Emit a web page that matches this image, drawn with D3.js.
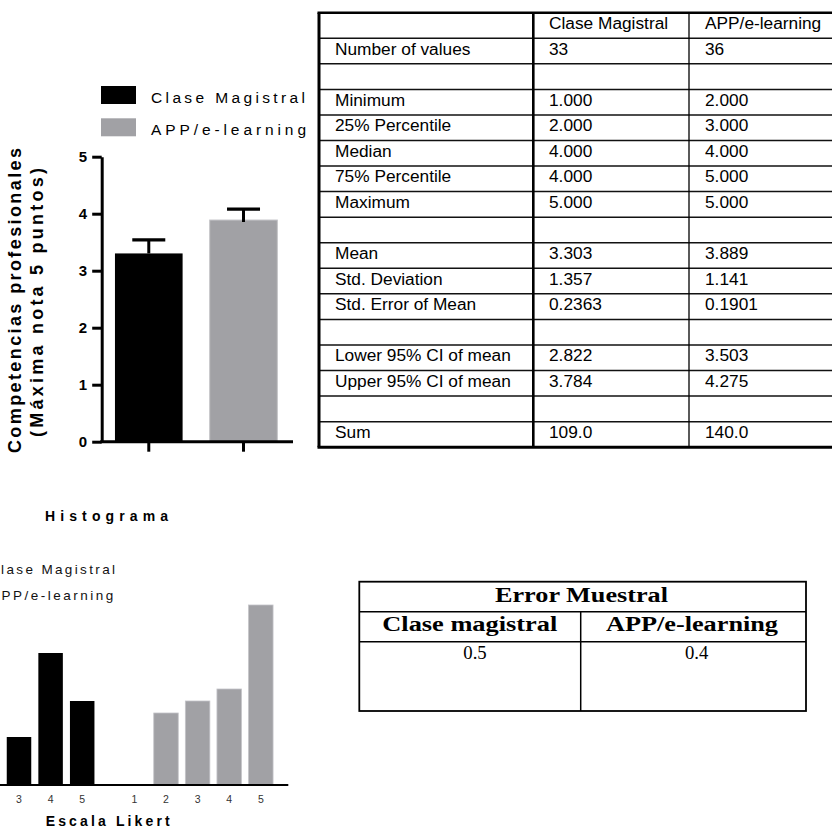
<!DOCTYPE html>
<html>
<head>
<meta charset="utf-8">
<script src="https://cdn.jsdelivr.net/npm/d3@7"></script>
<style>
  html, body { margin: 0; padding: 0; background: #fff; }
  svg { display: block; }
</style>
</head>
<body>
<script>
// ---------------- DATA ----------------
const groups = ["Clase Magistral", "APP/e-learning"];
const groupMeans = [3.303, 3.889];
const groupSEM = [0.2363, 0.1901];
const barTicks = [0, 1, 2, 3, 4, 5];

const likert = [1, 2, 3, 4, 5];
const claseCounts = [4, 7, 4, 11, 7];
const appCounts = [0, 6, 7, 8, 15];

const statHeader = ["", "Clase Magistral", "APP/e-learning"];
const statLabels = ["Number of values", "", "Minimum", "25% Percentile", "Median", "75% Percentile", "Maximum", "",
  "Mean", "Std. Deviation", "Std. Error of Mean", "", "Lower 95% CI of mean", "Upper 95% CI of mean", "", "Sum"];
const claseStats = ["33", "", "1.000", "2.000", "4.000", "4.000", "5.000", "",
  "3.303", "1.357", "0.2363", "", "2.822", "3.784", "", "109.0"];
const appStats = ["36", "", "2.000", "3.000", "4.000", "5.000", "5.000", "",
  "3.889", "1.141", "0.1901", "", "3.503", "4.275", "", "140.0"];

const errorTitle = "Error Muestral";
const errorHeader = ["Clase magistral", "APP/e-learning"];
const errorValues = ["0.5", "0.4"];

// ---------------- SETUP ----------------
const W = 832, H = 829;
const BLACK = "#000", GRAY = "#a1a1a5";
const SANS = "'Liberation Sans', Arial, sans-serif";
const SERIF = "'Liberation Serif', 'Times New Roman', serif";
const svg = d3.select("body").append("svg").attr("width", W).attr("height", H);
svg.append("rect").attr("width", W).attr("height", H).attr("fill", "#fff");

// ---------------- BAR CHART ----------------
const yBar = d3.scaleLinear().domain([0, 5]).range([441.7, 156.7]);
const xBar = d3.scaleBand().domain(groups).range([101.7, 290.6]).paddingInner(0.286).paddingOuter(0.14);
const bc = svg.append("g");

bc.selectAll("rect.bar").data(groups).join("rect")
  .attr("class", "bar")
  .attr("x", d => xBar(d))
  .attr("y", (d, i) => yBar(groupMeans[i]))
  .attr("width", xBar.bandwidth())
  .attr("height", (d, i) => yBar(0) - yBar(groupMeans[i]))
  .attr("fill", (d, i) => i === 0 ? BLACK : GRAY)
  .attr("stroke", (d, i) => i === 0 ? "none" : "#c4c4c8")
  .attr("stroke-width", 1);

// error bars (mean + SEM)
groups.forEach((g, i) => {
  const cx = xBar(g) + xBar.bandwidth() / 2;
  const top = yBar(groupMeans[i] + groupSEM[i]);
  bc.append("line").attr("x1", cx).attr("x2", cx)
    .attr("y1", yBar(groupMeans[i]) + (i === 0 ? 0 : 2)).attr("y2", top)
    .attr("stroke", BLACK).attr("stroke-width", 3);
  bc.append("line").attr("x1", cx - 16.5).attr("x2", cx + 16.5)
    .attr("y1", top).attr("y2", top)
    .attr("stroke", BLACK).attr("stroke-width", 3.2);
});

// y axis
const yAx = bc.append("g").attr("transform", "translate(101.7,0)")
  .call(d3.axisLeft(yBar).tickValues(barTicks).tickFormat(d3.format("d")).tickSize(9.5).tickSizeOuter(0).tickPadding(5));
yAx.select(".domain").attr("stroke-width", 3);
yAx.selectAll(".tick line").attr("stroke-width", 3);
yAx.selectAll(".tick text").attr("font-family", SANS).attr("font-weight", "bold").attr("font-size", 15).attr("fill", "#000");

// x axis
bc.append("line").attr("x1", 100.2).attr("x2", 293).attr("y1", yBar(0)).attr("y2", yBar(0))
  .attr("stroke", BLACK).attr("stroke-width", 3);
const xAx = bc.append("g").attr("transform", `translate(0,${yBar(0)})`)
  .call(d3.axisBottom(xBar).tickSize(10).tickFormat(""));
xAx.select(".domain").remove();
xAx.selectAll(".tick line").attr("stroke-width", 3);

// legend
const legY = [86, 118.3];
groups.forEach((g, i) => {
  bc.append("rect").attr("x", 101).attr("y", legY[i]).attr("width", 35).attr("height", 18)
    .attr("fill", i === 0 ? BLACK : GRAY);
  bc.append("text").attr("x", 151).attr("y", legY[i] + 17)
    .attr("font-family", SANS).attr("font-size", 15.5)
    .attr("textLength", i === 0 ? 154 : 155).attr("lengthAdjust", "spacing")
    .text(g);
});

// y title (two lines)
bc.append("text").attr("transform", "translate(20.7,453) rotate(-90)")
  .attr("font-family", SANS).attr("font-weight", "bold").attr("font-size", 18)
  .attr("textLength", 305).attr("lengthAdjust", "spacing")
  .text("Competencias profesionales");
bc.append("text").attr("transform", "translate(43.3,437) rotate(-90)")
  .attr("font-family", SANS).attr("font-weight", "bold").attr("font-size", 18)
  .attr("textLength", 269).attr("lengthAdjust", "spacing")
  .text("(Máxima nota 5 puntos)");

// ---------------- STATS TABLE ----------------
const tb = svg.append("g");
const tTop = 12.7, rowH = 25.56;
const nRows = statLabels.length + 1;
const colX = [319, 533.3, 689, 860];
const tBottom = tTop + nRows * rowH;
for (let r = 1; r < nRows; r++) {
  tb.append("line").attr("x1", colX[0]).attr("x2", colX[3])
    .attr("y1", tTop + r * rowH).attr("y2", tTop + r * rowH)
    .attr("stroke", "#111").attr("stroke-width", 1.5);
}
tb.append("line").attr("x1", colX[0] - 1.5).attr("x2", colX[3]).attr("y1", tTop).attr("y2", tTop)
  .attr("stroke", "#000").attr("stroke-width", 2.6);
tb.append("line").attr("x1", colX[0] - 1.5).attr("x2", colX[3]).attr("y1", tBottom).attr("y2", tBottom)
  .attr("stroke", "#000").attr("stroke-width", 3);
tb.append("line").attr("x1", colX[0]).attr("x2", colX[0]).attr("y1", tTop).attr("y2", tBottom)
  .attr("stroke", "#000").attr("stroke-width", 3);
tb.append("line").attr("x1", colX[1]).attr("x2", colX[1]).attr("y1", tTop).attr("y2", tBottom)
  .attr("stroke", "#000").attr("stroke-width", 2.6);
tb.append("line").attr("x1", colX[2]).attr("x2", colX[2]).attr("y1", tTop).attr("y2", tBottom)
  .attr("stroke", "#000").attr("stroke-width", 1.3);

const textX = [335, 549, 705];
const rows = [statHeader].concat(statLabels.map((l, i) => [l, claseStats[i], appStats[i]]));
rows.forEach((row, r) => {
  row.forEach((cell, c) => {
    if (!cell) return;
    tb.append("text").attr("x", textX[c]).attr("y", tTop + r * rowH + 16.4)
      .attr("font-family", SANS).attr("font-size", 17.3).attr("fill", "#000")
      .text(cell);
  });
});

// ---------------- HISTOGRAM ----------------
const hy = d3.scaleLinear().domain([0, 15]).range([785, 605]);
const hx = d3.scaleLinear().domain([1, 5]).range([-44.2, 82.2]);
const groupShift = [0, 178.6];
const hBarW = 24.5;
const hg = svg.append("g");
const histSeries = [claseCounts, appCounts];
histSeries.forEach((counts, gi) => {
  hg.selectAll(null).data(likert).join("rect")
    .attr("x", (d) => hx(d) + groupShift[gi] - hBarW / 2)
    .attr("y", (d, i) => hy(counts[i]))
    .attr("width", hBarW)
    .attr("height", (d, i) => hy(0) - hy(counts[i]))
    .attr("fill", gi === 0 ? BLACK : GRAY)
    .attr("stroke", gi === 0 ? "none" : "#c4c4c8").attr("stroke-width", 0.8);
  // only labels whose slot lies inside the visible canvas
  hg.selectAll(null).data(likert.filter(d => hx(d) + groupShift[gi] > 5)).join("text")
    .attr("x", d => hx(d) + groupShift[gi])
    .attr("y", 803)
    .attr("text-anchor", "middle")
    .attr("font-family", SANS).attr("font-size", 10.5).attr("fill", "#333")
    .text(d => d);
});
hg.append("line").attr("x1", -10).attr("x2", 288.3).attr("y1", hy(0)).attr("y2", hy(0))
  .attr("stroke", BLACK).attr("stroke-width", 2.2);

hg.append("text").attr("x", 45).attr("y", 521)
  .attr("font-family", SANS).attr("font-weight", "bold").attr("font-size", 14)
  .attr("textLength", 123).attr("lengthAdjust", "spacing").text("Histograma");
hg.append("text").attr("x", 45.7).attr("y", 826)
  .attr("font-family", SANS).attr("font-weight", "bold").attr("font-size", 14)
  .attr("textLength", 124).attr("lengthAdjust", "spacing").text("Escala Likert");

// histogram legend (partly off-canvas on the left, as in the reference)
const hLegX = [-11, -10], hLegEnd = [115, 113.3], hLegY = [574, 600];
groups.forEach((g, i) => {
  hg.append("rect").attr("x", -45).attr("y", hLegY[i] - 11).attr("width", 25).attr("height", 12)
    .attr("fill", i === 0 ? BLACK : GRAY);
  hg.append("text").attr("x", hLegX[i]).attr("y", hLegY[i])
    .attr("font-family", SANS).attr("font-size", 13.5).attr("fill", "#111")
    .attr("textLength", hLegEnd[i] - hLegX[i]).attr("lengthAdjust", "spacing")
    .text(g);
});

// ---------------- ERROR TABLE ----------------
const et = svg.append("g");
const eL = 359.3, eR = 806, eT = 581.7, eB = 711, eR1 = 611.7, eR2 = 641.7, eC = 580.7;
et.append("rect").attr("x", eL).attr("y", eT).attr("width", eR - eL).attr("height", eB - eT)
  .attr("fill", "none").attr("stroke", "#000").attr("stroke-width", 1.8);
[eR1, eR2].forEach(y => et.append("line").attr("x1", eL).attr("x2", eR).attr("y1", y).attr("y2", y)
  .attr("stroke", "#000").attr("stroke-width", 1.5));
et.append("line").attr("x1", eC).attr("x2", eC).attr("y1", eR1).attr("y2", eB)
  .attr("stroke", "#000").attr("stroke-width", 1.5);

et.append("text").attr("x", 495).attr("y", 602)
  .attr("font-family", SERIF).attr("font-weight", "bold").attr("font-size", 20)
  .attr("textLength", 173).attr("lengthAdjust", "spacingAndGlyphs").text(errorTitle);
const ehX = [382.3, 606], ehW = [175, 172];
errorHeader.forEach((h, i) => {
  et.append("text").attr("x", ehX[i]).attr("y", 630.5)
    .attr("font-family", SERIF).attr("font-weight", "bold").attr("font-size", 20)
    .attr("textLength", ehW[i]).attr("lengthAdjust", "spacingAndGlyphs").text(h);
});
const evX = [463.3, 685];
errorValues.forEach((v, i) => {
  et.append("text").attr("x", evX[i]).attr("y", 658.5)
    .attr("font-family", SERIF).attr("font-size", 19)
    .attr("textLength", 23.4).attr("lengthAdjust", "spacingAndGlyphs").text(v);
});
</script>
</body>
</html>
